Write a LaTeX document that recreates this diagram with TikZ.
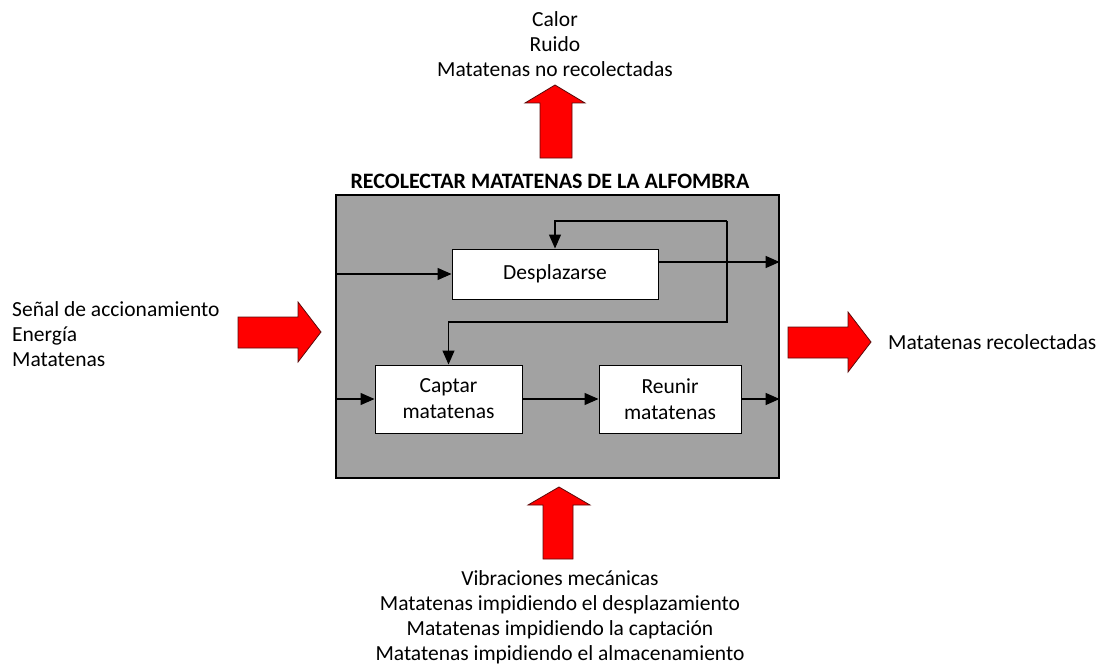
\documentclass[tikz,border=0pt]{standalone}
\usepackage{fontspec}
\setmainfont{Carlito}
\usetikzlibrary{arrows.meta}
\definecolor{boxgray}{RGB}{162,162,162}
\definecolor{bigred}{RGB}{255,0,0}
\definecolor{redline}{RGB}{90,10,10}
\tikzset{
  txt/.style={font=\fontsize{21.5}{25}\selectfont, inner sep=0pt},
  proc/.style={draw=black, line width=1pt, fill=white, font=\fontsize{21.5}{26}\selectfont, align=center, inner sep=0pt},
  flow/.style={line width=1.3pt, -{Triangle[length=14pt,width=12pt]}},
  bigarrow/.style={fill=bigred, draw=redline, line width=0.8pt, line join=miter},
}
\begin{document}
\begin{tikzpicture}[x=1pt,y=-1pt]
\useasboundingbox (0,0) rectangle (1100,666);
% system box
\node[draw=black, line width=1.2pt, fill=boxgray, minimum width=443pt, minimum height=283pt, inner sep=0pt] (sys) at (557.5,336.5) {};
\node[txt, font=\fontsize{22}{25}\selectfont\bfseries] (title) at (550,181) {RECOLECTAR MATATENAS DE LA ALFOMBRA};
% processes
\node[proc, minimum width=206pt, minimum height=50pt] (desp) at (555,274) {Desplazarse};
\node[proc, minimum width=147pt, minimum height=68pt] (capt) at (448.5,399) {Captar\\matatenas};
\node[proc, minimum width=142pt, minimum height=68pt] (reun) at (670,399) {Reunir\\matatenas};
% loop coordinates
\coordinate (lt) at (555,221);
\coordinate (rt) at (727,221);
\coordinate (rb) at (727,322);
\coordinate (dout) at ([yshift=12pt]desp.east);
% connectors
\draw[flow] (sys.west |- desp.west) -- (desp.west);
\draw[flow] (sys.west |- capt.west) -- (capt.west);
\draw[flow] (capt.east) -- (reun.west);
\draw[flow] (reun.east) -- (sys.east |- reun.east);
\draw[flow] (dout) -- (sys.east |- dout);
\draw[flow] (rt) -- (lt) -- (desp.north);
\draw[flow] (rt) -- (rb) -- (capt.north |- rb) -- (capt.north);
% big red arrows
\draw[bigarrow] (238,317) -- (298,317) -- (298,302) -- (321,332) -- (298,362) -- (298,348) -- (238,348) -- cycle;
\draw[bigarrow] (788,327) -- (848,327) -- (848,312) -- (871,342) -- (848,372) -- (848,358) -- (788,358) -- cycle;
\draw[bigarrow] (540,158) -- (540,103) -- (525,103) -- (555,85) -- (585,103) -- (572,103) -- (572,158) -- cycle;
\draw[bigarrow] (543,559) -- (543,505) -- (528,505) -- (559,487) -- (590,505) -- (573,505) -- (573,559) -- cycle;
% texts
\node[txt, align=left, anchor=west] (inputs) at (12,334) {Señal de accionamiento\\Energía\\Matatenas};
\node[txt, anchor=west] (outputs) at (888,342) {Matatenas recolectadas};
\node[txt, align=center] (waste) at (555,44) {Calor\\Ruido\\Matatenas no recolectadas};
\node[txt, align=center] (dist) at (560,617) {Vibraciones mecánicas\\Matatenas impidiendo el desplazamiento\\Matatenas impidiendo la captación\\Matatenas impidiendo el almacenamiento};
\end{tikzpicture}
\end{document}
